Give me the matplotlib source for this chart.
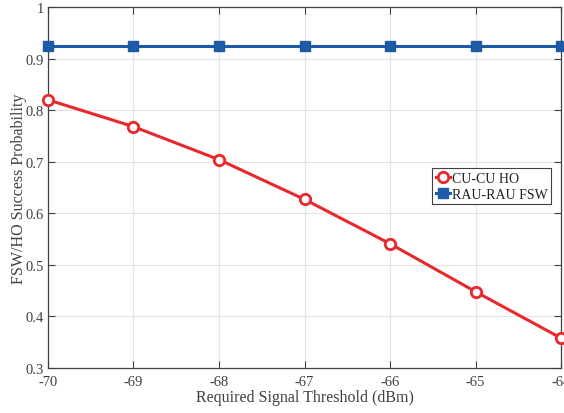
import matplotlib
matplotlib.use("Agg")
import matplotlib.pyplot as plt

# data
thresholds = [-70, -69, -68, -67, -66, -65, -64]
cu_cu_ho = [0.820, 0.768, 0.704, 0.627, 0.541, 0.448, 0.358]
rau_rau_fsw = [0.925, 0.925, 0.925, 0.925, 0.925, 0.925, 0.925]
y_ticks = [0.3, 0.4, 0.5, 0.6, 0.7, 0.8, 0.9, 1]
y_tick_labels = ["0.3", "0.4", "0.5", "0.6", "0.7", "0.8", "0.9", "1"]

plt.rcParams["font.family"] = ["Liberation Serif", "DejaVu Serif"]
text_gray = "#404040"

fig = plt.figure(figsize=(5.64, 4.14), dpi=100)
ax = fig.add_axes([0.0851, 0.1087, 0.9096, 0.872])

ax.plot(thresholds, cu_cu_ho, color="#E8282D", lw=2.2, marker="o", ms=7.5,
        mfc="white", mec="#E8282D", mew=2.0, label="CU-CU HO", clip_on=False, zorder=3)
ax.plot(thresholds, rau_rau_fsw, color="#1F5AA6", lw=2.2, marker="s", ms=7,
        mfc="#1F5AA6", mec="#1F5AA6", label="RAU-RAU FSW", clip_on=False, zorder=3)

ax.set_xlim(-70, -64)
ax.set_ylim(0.3, 1)
ax.set_xticks(thresholds)
ax.set_xticklabels([str(t) for t in thresholds])
ax.set_yticks(y_ticks)
ax.set_yticklabels(y_tick_labels)
ax.grid(True, color="#E3E3E3", lw=0.8)
ax.set_axisbelow(True)
ax.tick_params(direction="in", top=True, right=True, length=5, width=0.8,
               colors="#404040", labelsize=10.5, labelcolor=text_gray)
ax.tick_params(axis="x", pad=5)
ax.tick_params(axis="y", pad=3)
for s in ax.spines.values():
    s.set_color("#404040")
    s.set_linewidth(0.9)

ax.set_xlabel("Required Signal Threshold (dBm)", fontsize=11.5, color=text_gray, labelpad=1)
ax.set_ylabel("FSW/HO Success Probability", fontsize=11.5, color=text_gray, labelpad=-1)

leg = ax.legend(loc="upper left", bbox_to_anchor=(0.749, 0.553), fontsize=10,
                frameon=True, fancybox=False, edgecolor="#404040", framealpha=1,
                borderpad=0.25, labelspacing=0.2, handlelength=1.0, handletextpad=0.15,
                borderaxespad=0)
leg.get_frame().set_linewidth(0.8)
for t in leg.get_texts():
    t.set_color("#202020")

fig.savefig("out.png", dpi=100)
